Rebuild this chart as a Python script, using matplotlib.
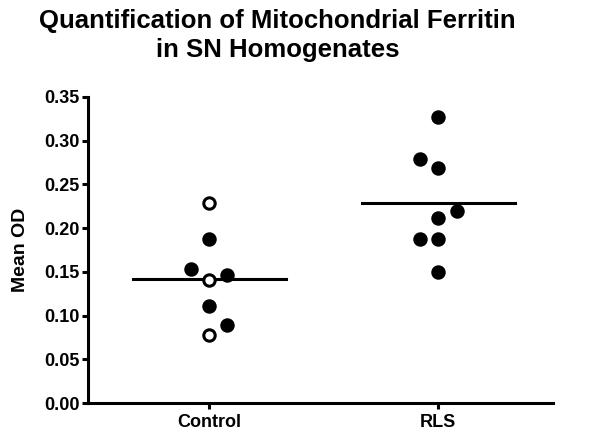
import matplotlib
matplotlib.use("Agg")
import matplotlib.pyplot as plt

plt.rcParams["font.family"] = ["Liberation Sans", "DejaVu Sans"]
plt.rcParams["font.weight"] = "bold"

groups = ["Control", "RLS"]

control_vals = [0.229, 0.188, 0.153, 0.146, 0.141, 0.111, 0.089, 0.078]
control_open = [True, False, False, False, True, False, False, True]
control_jitter = [0, 0, -0.08, 0.08, 0, 0, 0.08, 0]

rls_vals = [0.327, 0.279, 0.269, 0.220, 0.212, 0.188, 0.188, 0.150]
rls_open = [False] * 8
rls_jitter = [0, -0.08, 0, 0.08, 0, -0.08, 0, 0]

fig = plt.figure(figsize=(6, 4.42), dpi=100)
ax = fig.add_axes([0.147, 0.088, 0.775, 0.693])

for i, (vals, opens, jit) in enumerate(
    [(control_vals, control_open, control_jitter), (rls_vals, rls_open, rls_jitter)]
):
    pos = i + 1
    for v, o, j in zip(vals, opens, jit):
        ax.plot(pos + j, v, "o", ms=8.2, mew=2.2, mec="black",
                mfc="white" if o else "black", zorder=3)
    # mean line
    m = sum(vals) / len(vals)
    ax.plot([pos - 0.334, pos + 0.334], [m, m], color="black", lw=2.2, zorder=2)

ax.set_xlim(0.472, 2.502)
ax.set_ylim(0, 0.35)
ax.set_yticks([0, 0.05, 0.10, 0.15, 0.20, 0.25, 0.30, 0.35])
ax.set_yticklabels([f"{t:.2f}" for t in ax.get_yticks()])
ax.set_xticks([1, 2])
ax.set_xticklabels(groups)

for s in ["top", "right"]:
    ax.spines[s].set_visible(False)
for s in ["left", "bottom"]:
    ax.spines[s].set_linewidth(2.2)
ax.tick_params(width=2.2, length=4, labelsize=13, pad=2)
ax.tick_params(axis="x", pad=4)

ax.set_ylabel("Mean OD", fontsize=14, fontweight="bold", labelpad=11)
fig.text(0.463, 1 - 28 / 442, "Quantification of Mitochondrial Ferritin",
         fontsize=18.5, fontweight="bold", ha="center", va="baseline")
fig.text(0.463, 1 - 57 / 442, "in SN Homogenates",
         fontsize=18.5, fontweight="bold", ha="center", va="baseline")

fig.savefig("out.png", dpi=100)
